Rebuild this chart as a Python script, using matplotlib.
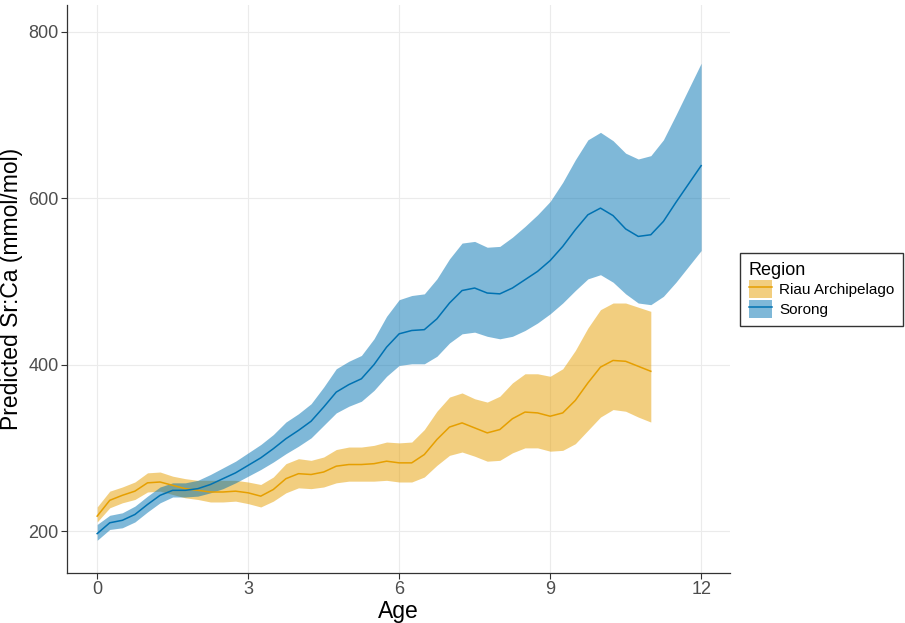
import matplotlib.pyplot as plt
import numpy as np
from matplotlib.patches import Patch
from matplotlib.lines import Line2D

plt.rcParams['font.family'] = ['Liberation Sans', 'DejaVu Sans']

# ages read at quarter-year steps
age_sorong = np.arange(0, 12.01, 0.25)
age_riau = np.arange(0, 11.01, 0.25)

sorong_fit = [197, 210, 213, 220, 232, 243, 249, 249, 251, 256, 263, 270, 279,
              288, 299, 311, 321, 332, 349, 367, 376, 383, 400, 421, 437, 441,
              442, 455, 474, 489, 492, 486, 485, 492, 502, 512, 525, 542, 562,
              580, 588, 579, 563, 554, 556, 572, 595, 617, 639]
sorong_hi = [208, 219, 222, 230, 242, 253, 258, 258, 261, 268, 276, 284, 294,
             304, 316, 331, 341, 353, 373, 395, 404, 411, 431, 458, 478, 483,
             485, 503, 527, 546, 548, 541, 542, 553, 566, 580, 596, 619, 646,
             670, 679, 669, 654, 647, 651, 670, 700, 731, 762]
sorong_lo = [189, 202, 204, 211, 223, 234, 241, 241, 242, 246, 251, 258, 266,
             274, 283, 293, 302, 312, 327, 342, 350, 356, 369, 386, 399, 401,
             401, 410, 426, 437, 439, 434, 431, 434, 441, 450, 461, 474, 489,
             503, 508, 499, 485, 474, 472, 482, 499, 518, 537]

riau_fit = [218, 237, 243, 248, 258, 259, 255, 251, 249, 247, 247, 248, 246,
            242, 250, 263, 269, 268, 271, 278, 280, 280, 281, 284, 282, 282,
            292, 310, 325, 330, 324, 318, 322, 335, 343, 342, 338, 342, 357,
            378, 397, 405, 404, 398, 392]
riau_hi = [229, 248, 253, 259, 270, 271, 266, 263, 261, 261, 261, 261, 259,
           256, 265, 281, 287, 285, 289, 298, 301, 301, 303, 307, 306, 307,
           322, 344, 361, 366, 359, 355, 362, 378, 389, 389, 386, 395, 417,
           444, 466, 474, 474, 469, 464]
riau_lo = [211, 228, 234, 238, 247, 248, 244, 240, 238, 235, 235, 236, 233,
           229, 236, 246, 252, 251, 253, 258, 260, 260, 260, 261, 259, 259,
           265, 279, 291, 295, 290, 284, 285, 294, 300, 300, 296, 297, 305,
           321, 337, 346, 344, 337, 331]

col_riau = '#E69F00'
col_sorong = '#0072B2'

fig = plt.figure(figsize=(9.05, 6.23), dpi=100)
ax = fig.add_axes([0.074, 0.080, 0.733, 0.912])

ax.fill_between(age_riau, riau_lo, riau_hi, color=col_riau, alpha=0.5, lw=0)
ax.plot(age_riau, riau_fit, color=col_riau, lw=1.1, solid_joinstyle='round')
ax.fill_between(age_sorong, sorong_lo, sorong_hi, color=col_sorong, alpha=0.5, lw=0)
ax.plot(age_sorong, sorong_fit, color=col_sorong, lw=1.1, solid_joinstyle='round')

ax.set_xlim(-0.6, 12.58)
ax.set_ylim(149.5, 832)
ax.set_xticks([0, 3, 6, 9, 12])
ax.set_yticks([200, 400, 600, 800])
ax.grid(True, color='#ebebeb', lw=0.8)
ax.set_axisbelow(True)
for s in ['top', 'right']:
    ax.spines[s].set_visible(False)
for s in ['left', 'bottom']:
    ax.spines[s].set_color('#333333')
    ax.spines[s].set_linewidth(0.9)
ax.tick_params(colors='#333333', labelcolor='#4d4d4d', labelsize=13, length=4, pad=2)
ax.set_xlabel('Age', fontsize=16.5, labelpad=1)
ax.set_ylabel('Predicted Sr:Ca (mmol/mol)', fontsize=16.5, labelpad=4)

handles = [(Patch(facecolor=col_riau, alpha=0.5, lw=0), Line2D([], [], color=col_riau, lw=1.1)),
           (Patch(facecolor=col_sorong, alpha=0.5, lw=0), Line2D([], [], color=col_sorong, lw=1.1))]
leg = fig.legend(handles, ['Riau Archipelago', 'Sorong'], title='Region',
                 loc='center left', bbox_to_anchor=(0.818, 0.535), fontsize=11,
                 title_fontsize=13, frameon=True, fancybox=False,
                 edgecolor='black', handlelength=1.5, handleheight=1.45,
                 handletextpad=0.5, labelspacing=0.1, borderpad=0.55,
                 borderaxespad=0)
leg._legend_box.align = 'left'
leg.get_frame().set_linewidth(1.0)

fig.savefig('out.png', dpi=100)
